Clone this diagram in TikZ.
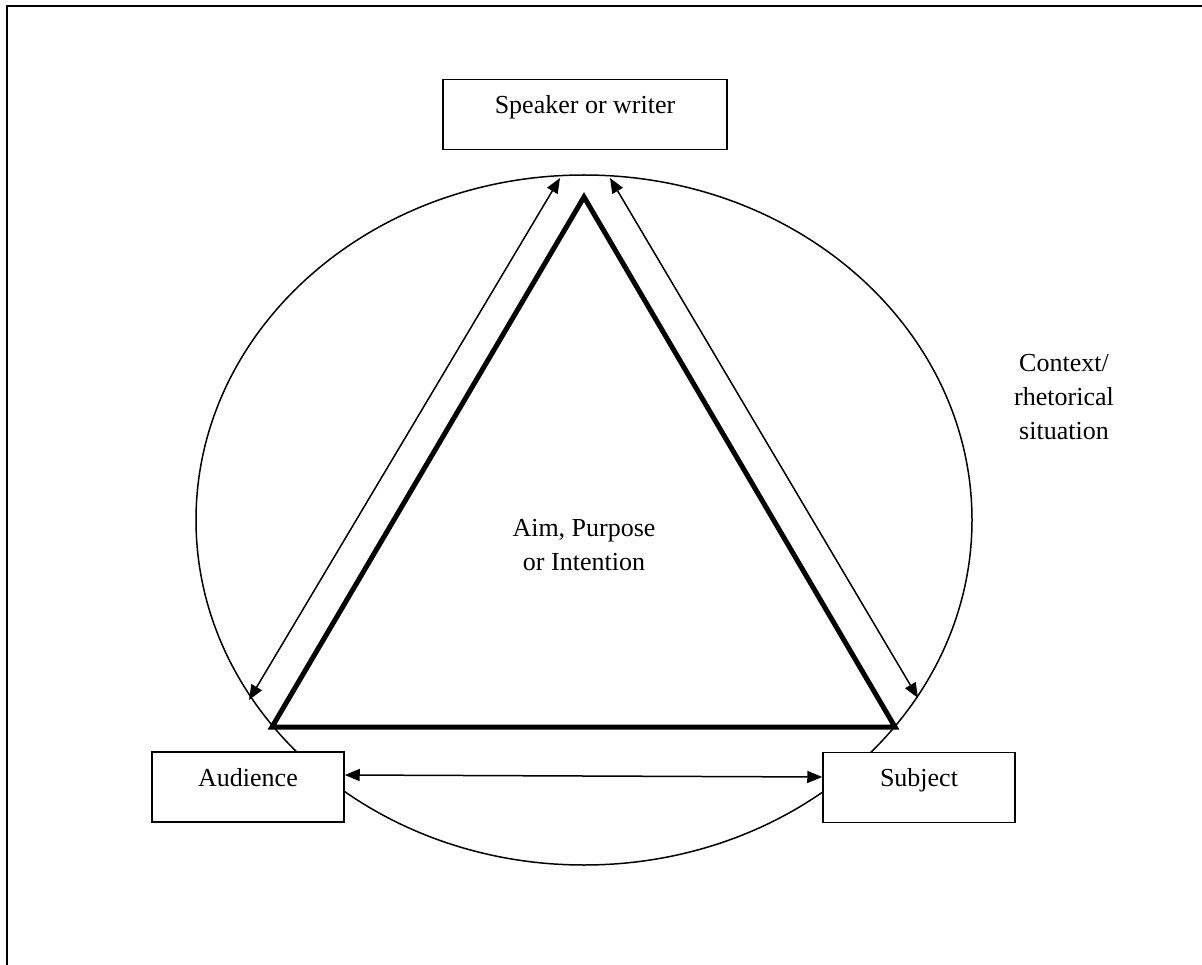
\documentclass[tikz,border=0pt]{standalone}
\usepackage{fontspec}
\setmainfont{Liberation Serif}
\usetikzlibrary{arrows.meta}
\begin{document}
\begin{tikzpicture}[x=1pt,y=-1pt,
  thinline/.style={line width=1.5pt},
  box/.style={draw,fill=white,line width=1.5pt,minimum width=192pt,minimum height=70pt,inner sep=0pt,text height=18pt,text depth=20pt,font=\fontsize{26}{33}\selectfont},
  lbl/.style={align=center,inner sep=0pt,font=\fontsize{26}{34}\selectfont},
  arr/.style={line width=1.5pt,{Triangle[length=15pt,width=12pt]}-{Triangle[length=15pt,width=12pt]}},
  tri/.style={line width=5pt,line join=miter}]
\useasboundingbox (0,0) rectangle (1202,965);
% frame
\draw[line width=2pt] (7,965) -- (7,6) -- (1202,6);
% context ellipse
\draw[thinline] (584,520) ellipse [x radius=388, y radius=345];
% triangle
\coordinate (apex) at (584,197);
\coordinate (bl) at (272,727);
\coordinate (br) at (895,727);
\draw[tri] (apex) -- (bl) -- (br) -- cycle;
% boxes
\node[box, minimum width=284pt] (spk) at (585,114.5) {Speaker or writer};
\node[box] (aud) at (248,787) {Audience};
\node[box] (sub) at (919,787.5) {Subject};
% arrows
\coordinate (lt) at (560,178);
\coordinate (lb) at (249,700);
\coordinate (rt) at (610,178);
\coordinate (rb) at (918,698);
\draw[arr] (lt) -- (lb);
\draw[arr] (rt) -- (rb);
\draw[arr] ([yshift=12pt]aud.east) -- ([yshift=10.5pt]sub.west);
% labels
\node[lbl] (aim) at (584,545) {Aim, Purpose\\or Intention};
\node[lbl] (ctx) at (1064,397) {Context/\\rhetorical\\situation};
\end{tikzpicture}
\end{document}
